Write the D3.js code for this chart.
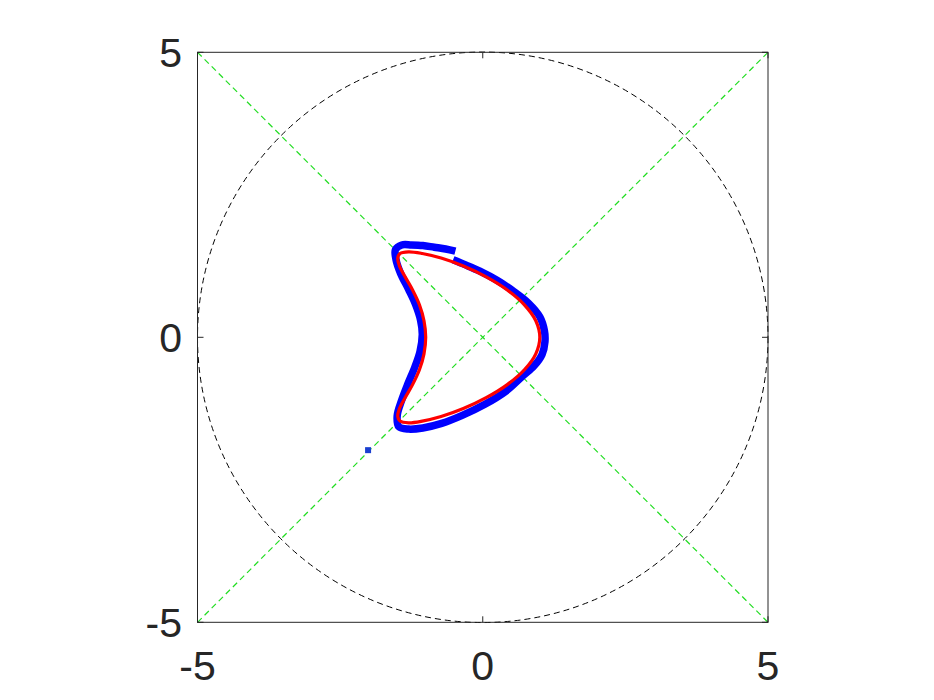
<!DOCTYPE html>
<html>
<head>
<meta charset="utf-8">
<script src="https://cdn.jsdelivr.net/npm/d3@7"></script>
<style>
  html, body { margin: 0; padding: 0; background: #ffffff; }
  svg { display: block; }
</style>
</head>
<body>
<svg id="chart" width="934" height="700"></svg>
<script>
// ---- data ----
const xTicks = [-5, 0, 5];
const yTicks = [-5, 0, 5];
const xTickLabels = ["-5", "0", "5"];
const yTickLabels = ["-5", "0", "5"];

const circleCenter = [0, 0];
const circleRadius = 5;

const diagonalUp = [[-5, -5], [5, 5]];
const diagonalDown = [[-5, 5], [5, -5]];

// red curve (closed)
const redCurve = [
  [1.00, 0.00], [0.93, 0.29], [0.73, 0.57], [0.43, 0.83], [0.06, 1.06],
  [-0.34, 1.25], [-0.73, 1.39], [-1.06, 1.47], [-1.30, 1.50], [-1.45, 1.47],
  [-1.49, 1.39], [-1.46, 1.25], [-1.36, 1.06], [-1.23, 0.83], [-1.11, 0.57],
  [-1.03, 0.29], [-1.00, 0.00], [-1.03, -0.29], [-1.11, -0.57], [-1.23, -0.83],
  [-1.36, -1.06], [-1.46, -1.25], [-1.49, -1.39], [-1.45, -1.47], [-1.30, -1.50],
  [-1.06, -1.47], [-0.73, -1.39], [-0.34, -1.25], [0.06, -1.06], [0.43, -0.83],
  [0.73, -0.57], [0.93, -0.29]
];

// blue band (open)
const blueBand = [
  [-0.48, 1.51], [-0.65, 1.55], [-0.85, 1.58], [-1.05, 1.61], [-1.25, 1.62],
  [-1.42, 1.62], [-1.53, 1.54], [-1.52, 1.36], [-1.44, 1.12], [-1.30, 0.84],
  [-1.18, 0.58], [-1.09, 0.30], [-1.06, 0.05], [-1.10, -0.25], [-1.19, -0.52],
  [-1.31, -0.81], [-1.42, -1.10], [-1.50, -1.38], [-1.47, -1.57], [-1.30, -1.61],
  [-1.05, -1.59], [-0.72, -1.51], [-0.36, -1.37], [0.03, -1.18], [0.40, -0.95],
  [0.70, -0.68], [0.90, -0.50], [1.04, -0.30], [1.09, -0.08], [1.08, 0.12],
  [1.00, 0.36], [0.80, 0.60], [0.55, 0.80], [0.25, 1.00], [-0.05, 1.16],
  [-0.30, 1.27], [-0.52, 1.36]
];
const blueIsolated = [[-2.01, -1.98]];

// ---- drawing ----
const svg = d3.select("#chart");
const x = d3.scaleLinear().domain([-5, 5]).range([197.5, 768]);
const y = d3.scaleLinear().domain([-5, 5]).range([622.3, 52.3]);

const axisColor = "#262626";
const line = d3.line().x(d => x(d[0])).y(d => y(d[1]));

// dashed circle
svg.append("circle")
  .attr("cx", x(circleCenter[0]))
  .attr("cy", y(circleCenter[1]))
  .attr("r", x(circleRadius) - x(0))
  .attr("fill", "none")
  .attr("stroke", "#000")
  .attr("stroke-width", 1)
  .attr("stroke-dasharray", "6,4");

// green diagonals
[diagonalUp, diagonalDown].forEach(seg => {
  svg.append("path")
    .attr("d", line(seg))
    .attr("fill", "none")
    .attr("stroke", "#22dd22")
    .attr("stroke-width", 1.2)
    .attr("stroke-dasharray", "6,4");
});

// blue band
svg.append("path")
  .attr("d", d3.line().x(d => x(d[0])).y(d => y(d[1])).curve(d3.curveCatmullRom)(blueBand))
  .attr("fill", "none")
  .attr("stroke", "#0000ff")
  .attr("stroke-width", 7.5)
  .attr("stroke-linejoin", "round")
  .attr("stroke-linecap", "butt");

svg.selectAll("rect.iso").data(blueIsolated).enter().append("rect")
  .attr("class", "iso")
  .attr("x", d => x(d[0]) - 3)
  .attr("y", d => y(d[1]) - 3)
  .attr("width", 6)
  .attr("height", 6)
  .attr("fill", "#1a3fd0");

// red curve
svg.append("path")
  .attr("d", d3.line().x(d => x(d[0])).y(d => y(d[1])).curve(d3.curveCatmullRomClosed)(redCurve))
  .attr("fill", "none")
  .attr("stroke", "#ff0000")
  .attr("stroke-width", 3.2);

// axes box
svg.append("rect")
  .attr("x", x(-5)).attr("y", y(5))
  .attr("width", x(5) - x(-5)).attr("height", y(-5) - y(5))
  .attr("fill", "none")
  .attr("stroke", axisColor)
  .attr("stroke-width", 1);

const tickLen = 6;
const g = svg.append("g");
xTicks.forEach(t => {
  g.append("line").attr("x1", x(t)).attr("x2", x(t)).attr("y1", y(-5)).attr("y2", y(-5) - tickLen)
    .attr("stroke", axisColor).attr("stroke-width", 1);
  g.append("line").attr("x1", x(t)).attr("x2", x(t)).attr("y1", y(5)).attr("y2", y(5) + tickLen)
    .attr("stroke", axisColor).attr("stroke-width", 1);
});
yTicks.forEach(t => {
  g.append("line").attr("y1", y(t)).attr("y2", y(t)).attr("x1", x(-5)).attr("x2", x(-5) + tickLen)
    .attr("stroke", axisColor).attr("stroke-width", 1);
  g.append("line").attr("y1", y(t)).attr("y2", y(t)).attr("x1", x(5)).attr("x2", x(5) - tickLen)
    .attr("stroke", axisColor).attr("stroke-width", 1);
});

const font = "'Liberation Sans', Arial, Helvetica, sans-serif";
xTicks.forEach((t, i) => {
  svg.append("text")
    .attr("x", x(t))
    .attr("y", 680)
    .attr("text-anchor", "middle")
    .attr("font-family", font)
    .attr("font-size", 41)
    .attr("fill", axisColor)
    .text(xTickLabels[i]);
});
yTicks.forEach((t, i) => {
  svg.append("text")
    .attr("x", 182)
    .attr("y", y(t) + 15)
    .attr("text-anchor", "end")
    .attr("font-family", font)
    .attr("font-size", 41)
    .attr("fill", axisColor)
    .text(yTickLabels[i]);
});
</script>
</body>
</html>
